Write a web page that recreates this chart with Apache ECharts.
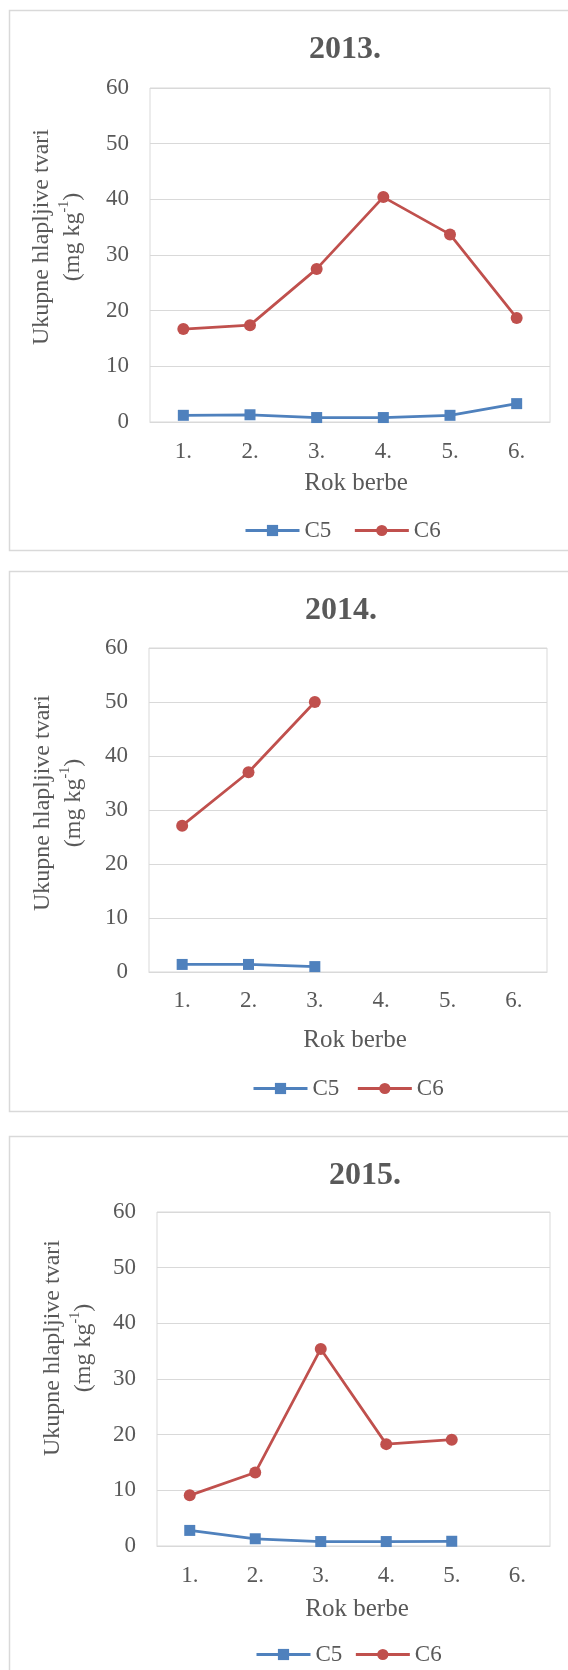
<!DOCTYPE html>
<html>
<head>
<meta charset="utf-8">
<script src="https://cdn.jsdelivr.net/npm/echarts@6/dist/echarts.min.js"></script>
<style>
  html, body { margin: 0; padding: 0; background: #fff; overflow: hidden; }
  .chart { position: absolute; left: 0; width: 568px; }
</style>
</head>
<body>
<div id="c2013" class="chart" style="top:0;height:560px"></div>
<div id="c2014" class="chart" style="top:560px;height:560px"></div>
<div id="c2015" class="chart" style="top:1120px;height:550px"></div>
<script>
// rok berbe (harvest dates)
const categories = ['1.', '2.', '3.', '4.', '5.', '6.']
const yMin = 0
const yMax = 60
const yStep = 10

// 2013.
const c5_2013 = [1.2, 1.3, 0.8, 0.8, 1.2, 3.3]
const c6_2013 = [16.7, 17.4, 27.5, 40.4, 33.7, 18.7]
// 2014.
const c5_2014 = [1.4, 1.4, 1.0]
const c6_2014 = [27.1, 37.0, 50.0]
// 2015.
const c5_2015 = [2.8, 1.3, 0.8, 0.8, 0.85]
const c6_2015 = [9.1, 13.2, 35.4, 18.3, 19.1]

const FONT = '"Liberation Serif", "Times New Roman", serif'
const TXT = '#595959'
const GRID_LINE = '#d9d9d9'
const BLUE = '#4f81bd'
const RED = '#c0504d'

function makeOption (cfg) {
  return {
    animation: false,
    title: {
      text: cfg.title,
      left: cfg.titleX,
      top: cfg.titleY - 16,
      textAlign: 'center',
      padding: 0,
      textStyle: { fontFamily: FONT, fontSize: 32, fontWeight: 'bold', color: TXT }
    },
    legend: {
      data: ['C5', 'C6'],
      left: cfg.legendX,
      top: cfg.legendY - 12,
      padding: 0,
      itemWidth: 54,
      itemHeight: 14,
      itemGap: cfg.legendGap,
      lineStyle: { width: 3 },
      textStyle: { fontFamily: FONT, fontSize: 23, color: TXT }
    },
    grid: {
      left: cfg.grid[0],
      top: cfg.grid[1],
      width: cfg.grid[2],
      height: cfg.grid[3],
      show: true,
      borderColor: GRID_LINE,
      borderWidth: 1
    },
    xAxis: {
      type: 'category',
      data: categories,
      boundaryGap: true,
      axisTick: { show: false },
      axisLine: { lineStyle: { color: GRID_LINE, width: 1 } },
      axisLabel: { margin: cfg.xLabelMargin, fontFamily: FONT, fontSize: 23, color: TXT }
    },
    yAxis: {
      type: 'value',
      min: yMin,
      max: yMax,
      interval: yStep,
      axisLine: { show: false },
      axisTick: { show: false },
      splitLine: { lineStyle: { color: GRID_LINE, width: 1 } },
      axisLabel: { margin: 21, fontFamily: FONT, fontSize: 23, color: TXT }
    },
    graphic: [
      {
        type: 'rect',
        silent: true,
        shape: { x: 9.5, y: cfg.frameTop + 0.5, width: 700, height: cfg.frameH },
        style: { fill: null, stroke: GRID_LINE, lineWidth: 1.5 }
      },
      {
        type: 'text',
        x: cfg.yNameX,
        y: cfg.yNameY,
        rotation: Math.PI / 2,
        style: {
          text: '{a|Ukupne hlapljive tvari}\n{a|(mg kg}{s|-1}{a|)}',
          align: 'center',
          verticalAlign: 'middle',
          rich: {
            a: { fontFamily: FONT, fontSize: 24, fill: TXT, lineHeight: 31 },
            s: { fontFamily: FONT, fontSize: 14, fill: TXT, verticalAlign: 'top' }
          }
        }
      },
      {
        type: 'text',
        x: cfg.xNameX,
        y: cfg.xNameY,
        style: {
          text: 'Rok berbe',
          align: 'center',
          verticalAlign: 'middle',
          fontFamily: FONT,
          fontSize: 25,
          fill: TXT
        }
      }
    ],
    series: [
      {
        name: 'C5',
        type: 'line',
        data: cfg.c5,
        symbol: 'rect',
        symbolSize: 11,
        lineStyle: { color: BLUE, width: 2.75 },
        itemStyle: { color: BLUE }
      },
      {
        name: 'C6',
        type: 'line',
        data: cfg.c6,
        symbol: 'circle',
        symbolSize: 12,
        lineStyle: { color: RED, width: 2.75 },
        itemStyle: { color: RED }
      }
    ]
  }
}

const charts = [
  {
    id: 'c2013', title: '2013.', c5: c5_2013, c6: c6_2013,
    titleX: 345, titleY: 50,
    grid: [150, 88, 400, 334], xLabelMargin: 18,
    legendX: 244, legendY: 531, legendGap: 22,
    frameTop: 10, frameH: 540,
    yNameX: 57, yNameY: 237,
    xNameX: 356, xNameY: 483
  },
  {
    id: 'c2014', title: '2014.', c5: c5_2014, c6: c6_2014,
    titleX: 341, titleY: 51,
    grid: [149, 88, 398, 324], xLabelMargin: 17,
    legendX: 252, legendY: 529, legendGap: 17,
    frameTop: 11, frameH: 540,
    yNameX: 58, yNameY: 243,
    xNameX: 355, xNameY: 480
  },
  {
    id: 'c2015', title: '2015.', c5: c5_2015, c6: c6_2015,
    titleX: 365, titleY: 56,
    grid: [157, 92, 393, 334], xLabelMargin: 18,
    legendX: 255, legendY: 535, legendGap: 12,
    frameTop: 16, frameH: 600,
    yNameX: 68, yNameY: 228,
    xNameX: 357, xNameY: 489
  }
]

charts.forEach(cfg => {
  const chart = echarts.init(document.getElementById(cfg.id))
  chart.setOption(makeOption(cfg))
})
</script>
</body>
</html>
